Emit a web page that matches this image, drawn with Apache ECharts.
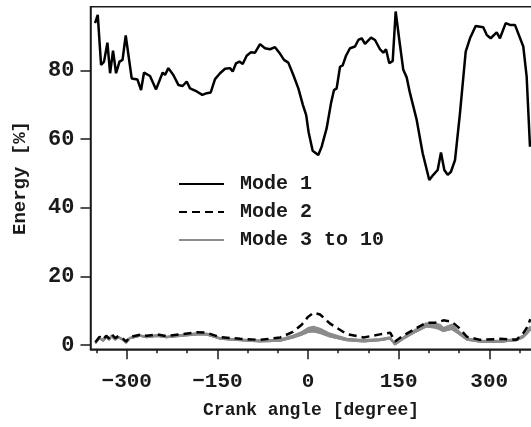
<!DOCTYPE html>
<html>
<head>
<meta charset="utf-8">
<script src="https://cdn.jsdelivr.net/npm/echarts@6/dist/echarts.min.js"></script>
<style>
  html, body { margin: 0; padding: 0; background: #fff; }
  #chart { width: 531px; height: 427px; }
</style>
</head>
<body>
<div id="chart"></div>
<script>
// Mode 1: energy share along the crank angle
const mode1Angle = [-352.5, -348, -342.5, -337.6, -332, -327.6, -322.7, -317.7, -312, -307, -301.7, -291.8, -282.4, -276.3, -271.4, -261.5, -251.5, -240.5, -236.6, -231.1, -222.9, -214.6, -207.4, -200.8, -195.3, -184.2, -174.9, -167.6, -161, -153.9, -145.6, -137.3, -129.1, -124.6, -119.1, -113.6, -108.1, -101.5, -94.8, -87.7, -79.4, -71.2, -62.9, -54.6, -47.5, -39.7, -32.6, -24.3, -16, -8.5, -3, 1, 7.7, 17, 22.6, 30.9, 38.1, 43, 47.4, 53, 57.4, 62.9, 69.5, 77.8, 83.3, 88.8, 94.3, 104.3, 110.9, 119.1, 124.6, 129.1, 134.5, 140.2, 145.1, 151.1, 157.7, 163.3, 168.8, 179.9, 189.8, 200.7, 207.4, 214.6, 220.1, 225.6, 231.2, 236.6, 243.3, 251.5, 261, 268.1, 277.5, 290.1, 295.7, 302.3, 312.3, 317.7, 327.2, 334.3, 342.5, 356.3, 361.9, 367.4];
const mode1Energy = [93.8, 96.2, 81.6, 82.6, 88.1, 79.2, 85.8, 79.2, 82.6, 83.1, 90.2, 77.7, 77.4, 74.3, 79.4, 78.4, 74.5, 79.4, 78.7, 80.7, 78.7, 75.8, 75.5, 76.8, 74.8, 73.9, 72.9, 73.4, 73.6, 77.5, 79.2, 80.5, 80.7, 79.7, 82.1, 82.6, 81.9, 84.3, 85.3, 85.2, 87.7, 86.5, 86.2, 86.8, 85.2, 83.1, 82.3, 78.7, 74.8, 70.0, 67.0, 62.0, 56.6, 55.4, 57.8, 63.2, 70.5, 74.3, 74.8, 81.1, 81.5, 84.3, 86.5, 87.0, 88.9, 89.4, 87.8, 89.6, 88.9, 86.2, 85.2, 86.2, 82.1, 82.8, 97.2, 88.9, 80.2, 78.0, 73.4, 65.6, 55.9, 48.1, 49.6, 51.0, 56.1, 51.0, 49.6, 50.5, 53.9, 67.5, 85.5, 89.4, 93.0, 92.6, 90.4, 89.4, 91.1, 89.4, 93.8, 93.3, 93.3, 87.0, 78.2, 57.8];

// Higher modes share one angle grid
const lowAngle = [-352, -345, -339, -334, -329, -325, -319, -314, -307, -301, -295, -278, -267, -250, -234, -212, -184, -168, -146, -112, -79, -46, -25, -10, 0, 9, 20, 36, 64, 92, 119, 136, 144, 158, 174, 196, 210, 218, 224, 238, 250, 263, 285, 318, 345, 356, 362, 368];
const mode2Energy = [0.8, 2.4, 1.6, 2.7, 1.9, 3.1, 2.0, 2.6, 2.0, 1.0, 2.3, 3.0, 2.7, 3.1, 2.6, 3.1, 3.7, 3.6, 2.3, 1.8, 1.5, 2.2, 3.8, 6.0, 8.2, 9.4, 8.9, 6.3, 3.2, 2.2, 3.1, 3.6, 1.0, 2.8, 4.4, 6.5, 6.5, 6.8, 7.2, 6.8, 5.0, 2.4, 1.5, 1.8, 1.5, 3.4, 5.0, 7.5];
const mode3Energy = [0.7, 2.2, 1.5, 2.5, 1.8, 2.9, 1.8, 2.5, 1.8, 0.9, 2.2, 2.9, 2.5, 3.0, 2.5, 3.0, 3.5, 3.4, 2.1, 1.7, 1.4, 1.7, 2.8, 3.9, 5.0, 5.4, 4.8, 3.4, 1.9, 1.5, 1.8, 2.3, 0.4, 2.3, 4.1, 6.4, 6.3, 6.0, 5.0, 6.0, 4.0, 2.0, 1.3, 1.3, 1.8, 2.8, 4.0, 5.5];
const mode4Energy = [0.6, 2.1, 1.5, 2.4, 1.7, 2.8, 1.7, 2.4, 1.7, 0.8, 2.1, 2.8, 2.4, 2.9, 2.4, 2.9, 3.4, 3.3, 2.0, 1.6, 1.3, 1.6, 2.7, 3.7, 4.8, 5.2, 4.6, 3.2, 1.8, 1.4, 1.7, 2.2, 0.3, 2.2, 4.0, 6.2, 6.1, 5.8, 4.8, 5.8, 3.9, 1.9, 1.2, 1.2, 1.7, 2.7, 3.8, 5.3];
const mode5Energy = [0.6, 2.0, 1.4, 2.4, 1.7, 2.7, 1.7, 2.3, 1.6, 0.8, 2.0, 2.8, 2.3, 2.8, 2.4, 2.8, 3.3, 3.2, 2.0, 1.5, 1.2, 1.5, 2.5, 3.5, 4.5, 4.9, 4.3, 3.0, 1.7, 1.3, 1.6, 2.1, 0.3, 2.1, 3.8, 6.0, 5.8, 5.5, 4.6, 5.5, 3.7, 1.8, 1.1, 1.1, 1.6, 2.6, 3.7, 5.1];
const mode6Energy = [0.6, 2.0, 1.3, 2.3, 1.6, 2.7, 1.6, 2.3, 1.6, 0.7, 2.0, 2.7, 2.3, 2.8, 2.3, 2.8, 3.3, 3.2, 1.9, 1.5, 1.2, 1.4, 2.4, 3.4, 4.3, 4.6, 4.1, 2.9, 1.6, 1.2, 1.5, 2.0, 0.2, 2.0, 3.7, 5.8, 5.6, 5.2, 4.4, 5.3, 3.6, 1.7, 1.1, 1.0, 1.5, 2.5, 3.5, 4.9];
const mode7Energy = [0.5, 2.0, 1.3, 2.3, 1.6, 2.6, 1.6, 2.3, 1.6, 0.7, 2.0, 2.7, 2.3, 2.7, 2.3, 2.7, 3.2, 3.1, 1.9, 1.4, 1.1, 1.3, 2.3, 3.3, 4.1, 4.4, 3.9, 2.7, 1.5, 1.1, 1.4, 1.9, 0.2, 1.9, 3.6, 5.6, 5.4, 5.0, 4.2, 5.0, 3.4, 1.6, 1.0, 1.0, 1.4, 2.4, 3.4, 4.7];
const mode8Energy = [0.5, 1.9, 1.2, 2.2, 1.5, 2.6, 1.5, 2.2, 1.5, 0.6, 1.9, 2.6, 2.2, 2.7, 2.2, 2.7, 3.1, 3.1, 1.8, 1.4, 1.1, 1.3, 2.2, 3.1, 3.9, 4.2, 3.7, 2.6, 1.4, 1.1, 1.4, 1.9, 0.1, 1.9, 3.5, 5.5, 5.2, 4.8, 4.1, 4.8, 3.3, 1.6, 1.0, 0.9, 1.4, 2.3, 3.3, 4.6];
const mode9Energy = [0.5, 1.9, 1.2, 2.2, 1.5, 2.5, 1.5, 2.2, 1.5, 0.6, 1.9, 2.6, 2.2, 2.6, 2.2, 2.6, 3.0, 3.0, 1.8, 1.3, 1.0, 1.2, 2.1, 3.0, 3.8, 4.0, 3.5, 2.5, 1.3, 1.0, 1.3, 1.8, 0.1, 1.8, 3.4, 5.4, 5.1, 4.6, 4.0, 4.7, 3.2, 1.5, 0.9, 0.9, 1.3, 2.2, 3.2, 4.5];
const mode10Energy = [0.5, 1.9, 1.2, 2.2, 1.5, 2.5, 1.5, 2.2, 1.5, 0.6, 1.9, 2.6, 2.2, 2.6, 2.2, 2.6, 3.0, 3.0, 1.8, 1.3, 1.0, 1.2, 2.1, 3.0, 3.7, 3.9, 3.4, 2.4, 1.3, 1.0, 1.3, 1.8, 0.1, 1.8, 3.4, 5.3, 5.0, 4.5, 4.0, 4.6, 3.2, 1.5, 0.9, 0.9, 1.3, 2.2, 3.2, 4.4];

// Axis ticks
const xMajorTicks = [-300, -150, 0, 150, 300];
const xMinorTicks = [-350, -250, -200, -100, -50, 50, 100, 200, 250, 350];
const yTicks = [0, 20, 40, 60, 80];

const FONT = "'Liberation Mono', 'DejaVu Sans Mono', monospace";
const INK = '#1a1a1a';

function pairs(xs, ys) {
  return xs.map((x, i) => [x, ys[i]]);
}

const grayModes = [mode3Energy, mode4Energy, mode5Energy, mode6Energy, mode7Energy, mode8Energy, mode9Energy, mode10Energy];

const series = [];
grayModes.forEach(vals => {
  series.push({
    name: 'Mode 3 to 10',
    type: 'line',
    data: pairs(lowAngle, vals),
    symbol: 'none',
    lineStyle: { color: '#8c8c8c', width: 1.6 },
    itemStyle: { color: '#8c8c8c' },
    z: 2
  });
});
series.push({
  name: 'Mode 2',
  type: 'line',
  data: pairs(lowAngle, mode2Energy),
  symbol: 'none',
  lineStyle: { color: '#000', width: 2.5, type: [8, 5] },
  itemStyle: { color: '#000' },
  z: 3
});
series.push({
  name: 'Mode 1',
  type: 'line',
  data: pairs(mode1Angle, mode1Energy),
  symbol: 'none',
  lineStyle: { color: '#000', width: 2.5 },
  itemStyle: { color: '#000' },
  z: 4
});

const chart = echarts.init(document.getElementById('chart'), null, { renderer: 'canvas' });
chart.setOption({
  animation: false,
  backgroundColor: '#fff',
  grid: {
    left: 90.5, top: 6.7, right: -6.6, bottom: 77.7,
    show: true, borderColor: INK, borderWidth: 1.5,
    containLabel: false, outerBoundsMode: 'none'
  },
  legend: {
    data: ['Mode 1', 'Mode 2', 'Mode 3 to 10'],
    orient: 'vertical',
    left: 178, top: 174, padding: 0,
    itemWidth: 45, itemHeight: 14, itemGap: 8,
    itemStyle: { opacity: 0 },
    textStyle: { fontFamily: FONT, fontWeight: 'bold', fontSize: 20, color: INK, lineHeight: 20, padding: [0, 0, 0, 11] },
    selectedMode: false
  },
  xAxis: [
    {
      type: 'value', min: -360, max: 380, position: 'bottom',
      name: 'Crank angle [degree]', nameLocation: 'middle', nameGap: 52,
      nameTextStyle: { fontFamily: FONT, fontWeight: 'bold', fontSize: 18, color: INK, padding: [0, 6, 0, 0] },
      axisLine: { show: true, onZero: false, lineStyle: { color: INK, width: 1.5 } },
      axisTick: { show: true, length: 10, inside: false, customValues: xMajorTicks, lineStyle: { color: INK, width: 1.5 } },
      axisLabel: {
        show: true, customValues: xMajorTicks, margin: 22,
        fontFamily: FONT, fontWeight: 'bold', fontSize: 21, color: INK,
        formatter: v => String(v).replace('-', '\u2212')
      },
      splitLine: { show: false }
    },
    {
      type: 'value', min: -360, max: 380, position: 'bottom',
      axisLine: { show: false, onZero: false },
      axisTick: { show: true, length: 4, customValues: xMinorTicks, lineStyle: { color: INK, width: 1.5 } },
      axisLabel: { show: false },
      splitLine: { show: false }
    }
  ],
  yAxis: {
    type: 'value', min: -1.25, max: 98.6,
    name: 'Energy [%]', nameLocation: 'middle', nameGap: 61, nameRotate: 90,
    nameTextStyle: { fontFamily: FONT, fontWeight: 'bold', fontSize: 19, color: INK },
    axisLine: { show: true, onZero: false, lineStyle: { color: INK, width: 1.5 } },
    axisTick: { show: true, length: 10, customValues: yTicks, lineStyle: { color: INK, width: 1.5 } },
    axisLabel: {
      show: true, customValues: yTicks, margin: 16,
      fontFamily: FONT, fontWeight: 'bold', fontSize: 22, color: INK
    },
    splitLine: { show: false }
  },
  series: series
});
</script>
</body>
</html>
